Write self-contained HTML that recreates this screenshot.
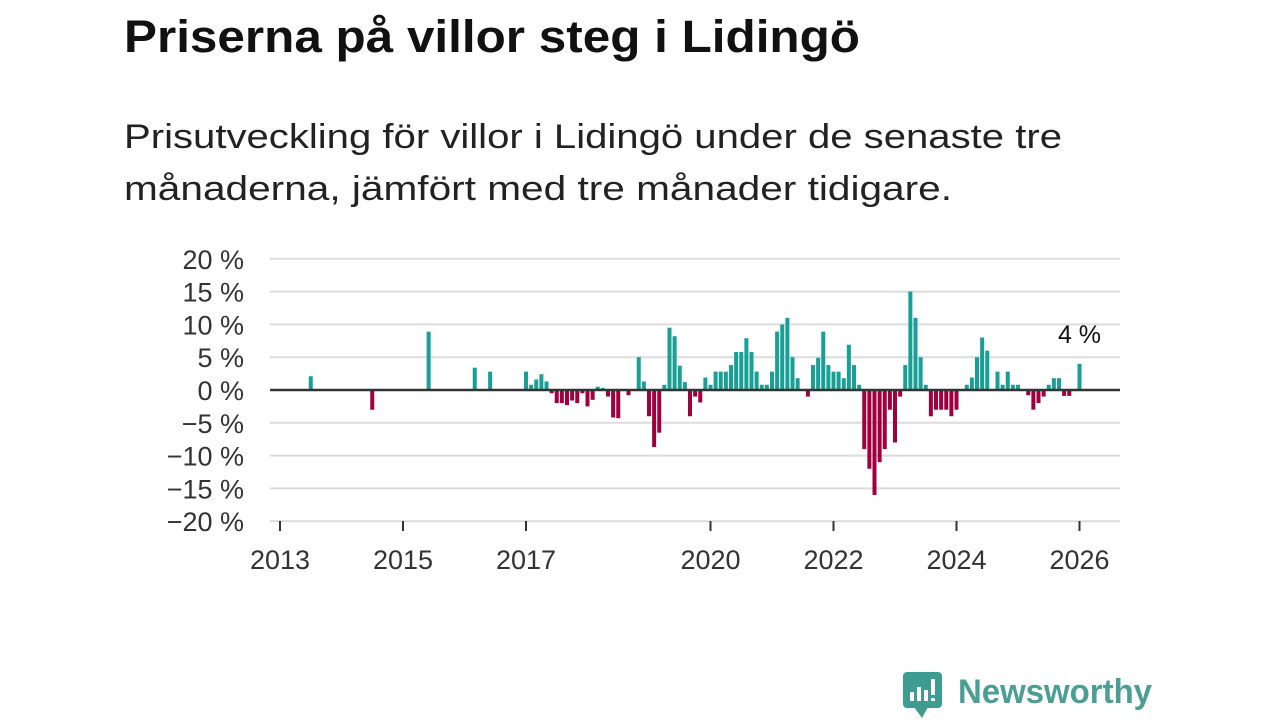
<!DOCTYPE html>
<html><head><meta charset="utf-8"><style>
body{margin:0;background:#fff;width:1280px;height:720px;overflow:hidden}
svg{display:block}
text{font-family:"Liberation Sans","DejaVu Sans",sans-serif}
</style></head><body>
<svg id="chart" width="1280" height="720">
<text x="124" y="52" font-size="45" font-weight="bold" fill="#111" textLength="736" lengthAdjust="spacingAndGlyphs">Priserna på villor steg i Lidingö</text>
<text x="124" y="148" font-size="34" fill="#222" textLength="938" lengthAdjust="spacingAndGlyphs">Prisutveckling för villor i Lidingö under de senaste tre</text>
<text x="124" y="200" font-size="34" fill="#222" textLength="828" lengthAdjust="spacingAndGlyphs">månaderna, jämfört med tre månader tidigare.</text>
<g id="grid"></g><g id="bars"></g><g id="axes"></g>
<g>
<rect x="903" y="672" width="39" height="36" rx="4" fill="#3f9c91"/>
<path d="M914 707 L922 718 L928 707Z" fill="#3f9c91"/>
<rect x="910" y="692" width="4" height="9" fill="#fff"/><rect x="917" y="687" width="4" height="14" fill="#fff"/><rect x="924" y="690" width="4" height="11" fill="#fff"/><rect x="931" y="679" width="4" height="16" fill="#fff"/><rect x="931" y="698" width="4" height="3" fill="#fff"/>
<text x="958" y="703" font-size="34" font-weight="bold" fill="#4a9e94" textLength="194" lengthAdjust="spacingAndGlyphs">Newsworthy</text>
</g>
</svg>
<script>
const monthIndex=[6,18,29,38,41,48,49,50,51,52,53,54,55,56,57,58,59,60,61,62,63,64,65,66,68,70,71,72,73,74,75,76,77,78,79,80,81,82,83,84,85,86,87,88,89,90,91,92,93,94,95,96,97,98,99,100,101,103,104,105,106,107,108,109,110,111,112,113,114,115,116,117,118,119,120,121,122,123,124,125,126,127,128,129,130,131,132,134,135,136,137,138,140,141,142,143,144,146,147,148,149,150,151,152,153,154,156];
const values=[2.1,-3,8.9,3.4,2.8,2.8,0.8,1.6,2.4,1.3,-0.5,-2,-2,-2.3,-1.6,-2,-0.5,-2.5,-1.5,0.5,0.3,-1,-4.2,-4.3,-0.8,5,1.3,-4,-8.7,-6.5,0.8,9.5,8.2,3.7,1.2,-4,-1,-1.9,1.9,0.8,2.8,2.8,2.8,3.8,5.8,5.8,7.9,5.8,2.8,0.8,0.8,2.8,8.9,10,11,5,1.8,-1,3.8,4.9,8.9,3.8,2.8,2.8,1.8,6.9,3.8,0.8,-9,-12,-16,-11,-9,-3,-8,-1,3.8,15,11,5,0.8,-4,-3,-3,-3,-4,-3,0.8,1.9,5,8,6,2.8,0.8,2.8,0.8,0.8,-0.8,-3,-2,-1,0.8,1.8,1.8,-0.9,-0.9,4];
const yTicks=[20,15,10,5,0,-5,-10,-15,-20];
const xTickYears=[2013,2015,2017,2020,2022,2024,2026];
const NS='http://www.w3.org/2000/svg';
const X0=280,MW=61.5/12,Y0=390,YS=6.56;
const xm=m=>X0+m*MW, xy=yr=>X0+(yr-2013)*12*MW, y=v=>Y0-v*YS;
function mk(t,a,p){const e=document.createElementNS(NS,t);for(const k in a)e.setAttribute(k,a[k]);p.appendChild(e);return e;}
const g=document.getElementById('grid'),b=document.getElementById('bars'),ax=document.getElementById('axes');
yTicks.forEach(v=>{
 if(v!==0){const l=mk('line',{x1:270,x2:1120,y1:y(v),y2:y(v),stroke:'#dcdcdc','stroke-width':2},g);
 
 }
 const t=mk('text',{x:244,y:y(v)+10,'font-size':27,fill:'#333','text-anchor':'end'},g);
 t.textContent=(v<0?'\u2212'+(-v):v)+' %';
 
 
});
monthIndex.forEach((m,i)=>{const v=values[i];
 const r=mk('rect',{x:xm(m)-2,width:4,y:Math.min(y(v),Y0),height:Math.abs(y(v)-Y0),fill:v>=0?'#17a096':'#a0003e'},b);
 
 
});
const z=mk('line',{x1:270,x2:1120,y1:Y0,y2:Y0,stroke:'#333','stroke-width':2.5},ax);


xTickYears.forEach(yr=>{
 const tk=mk('line',{x1:xy(yr),x2:xy(yr),y1:521,y2:531,stroke:'#333','stroke-width':2},ax);
 
 
 const t=mk('text',{x:xy(yr),y:569,'font-size':27,fill:'#333','text-anchor':'middle'},ax);
 t.textContent=yr;
 
 
});
const li=values.length-1;
const lab=mk('text',{x:xm(monthIndex[li]),y:y(values[li])-21,'font-size':25,fill:'#111','text-anchor':'middle'},ax);
lab.textContent=Math.round(values[li])+' %';


</script>
</body></html>
